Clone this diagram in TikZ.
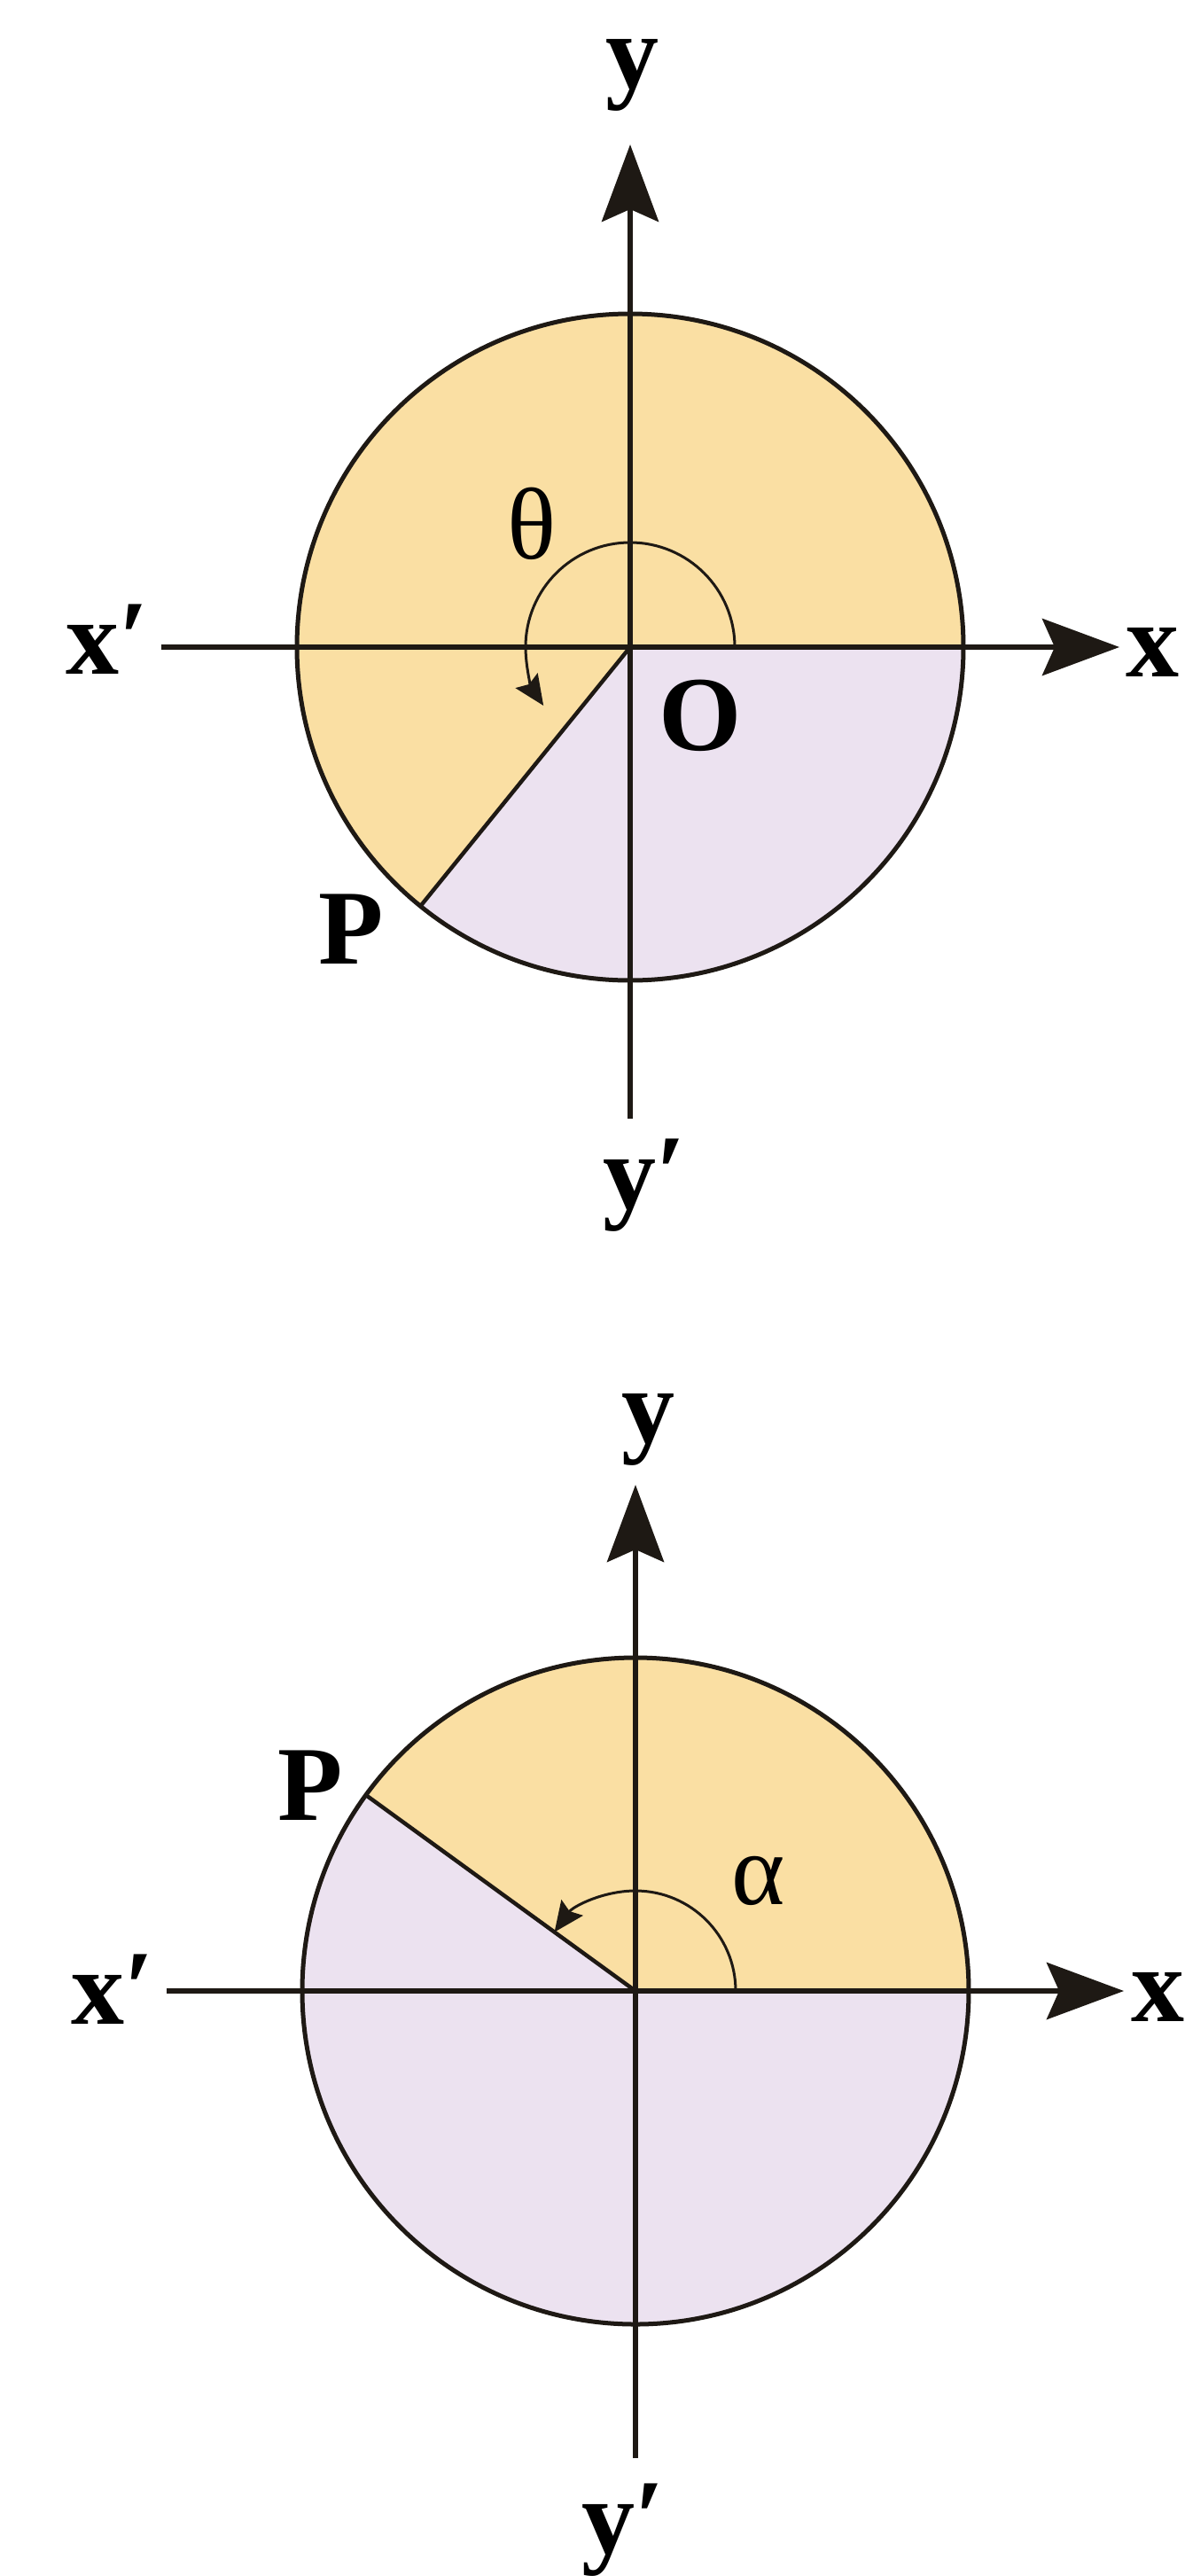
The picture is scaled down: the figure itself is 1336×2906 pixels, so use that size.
\documentclass[tikz,border=0pt]{standalone}
\usepackage{fontspec}
\setmainfont{Liberation Serif}
\usetikzlibrary{arrows.meta}
\definecolor{orangefill}{RGB}{250,223,163}
\definecolor{lavfill}{RGB}{236,226,240}
\definecolor{inkline}{RGB}{30,25,20}
\newcommand{\lblfont}{\fontsize{120}{120}\selectfont\bfseries}
\newcommand{\grkfont}{\fontsize{115}{115}\selectfont}
\begin{document}
\begin{tikzpicture}[x=1pt,y=1pt,
  axisline/.style={line width=6pt,draw=inkline,-{Stealth[length=87pt,width=64pt,inset=14pt]}},
  circline/.style={line width=5pt,draw=inkline},
  rayline/.style={line width=4.5pt,draw=inkline},
  anglearc/.style={line width=3pt,draw=inkline,-{Stealth[length=34pt,width=30pt,inset=5pt]}},
  lbl/.style={inner sep=0pt,anchor=base,font=\lblfont,text=black},
  grk/.style={inner sep=0pt,anchor=base,font=\grkfont,text=black}]
\useasboundingbox (0,0) rectangle (1336,-2906);
\fill[white] (0,0) rectangle (1336,-2906);
% ---------- top figure ----------
\coordinate (O1) at (711,-730);
\coordinate (P1) at ([shift={(231:376)}]O1);
\coordinate (A1) at ([shift={(0:118)}]O1);
\coordinate (X1a) at (182,-730);
\coordinate (X1b) at (1263,-730);
\coordinate (Y1a) at (711,-1262);
\coordinate (Y1b) at (711,-163);
\fill[orangefill] (O1) -- ([shift={(0:376)}]O1) arc[start angle=0,end angle=231,radius=376] -- cycle;
\fill[lavfill] (O1) -- (P1) arc[start angle=231,end angle=360,radius=376] -- cycle;
\draw[circline] (O1) circle[radius=376];
\draw[rayline] (O1) -- (P1);
\draw[axisline] (X1a) -- (X1b);
\draw[axisline] (Y1a) -- (Y1b);
\draw[anglearc] (A1) arc[start angle=0,end angle=214,radius=118];
\node[lbl] (ylab1) at (713,-100) {y};
\node[lbl] (xlab1) at (1300,-763) {x};
\node[lbl] (xplab1) at (121,-760) {x\char"2032};
\node[lbl] (yplab1) at (727,-1363) {y\char"2032};
\node[lbl] (plab1) at (396,-1087) {P};
\node[lbl] (olab1) at (790,-846) {O};
\node[grk] (thlab) at (600,-630) {θ};
% ---------- bottom figure ----------
\coordinate (O2) at (717,-2246);
\coordinate (P2) at ([shift={(144:376)}]O2);
\coordinate (A2) at ([shift={(0:113)}]O2);
\coordinate (X2a) at (188,-2246);
\coordinate (X2b) at (1268,-2246);
\coordinate (Y2a) at (717,-2773);
\coordinate (Y2b) at (717,-1675);
\fill[orangefill] (O2) -- ([shift={(0:376)}]O2) arc[start angle=0,end angle=144,radius=376] -- cycle;
\fill[lavfill] (O2) -- (P2) arc[start angle=144,end angle=360,radius=376] -- cycle;
\draw[circline] (O2) circle[radius=376];
\draw[rayline] (O2) -- (P2);
\draw[axisline] (X2a) -- (X2b);
\draw[axisline] (Y2a) -- (Y2b);
\draw[anglearc] (A2) arc[start angle=0,end angle=144,radius=113];
\node[lbl] (ylab2) at (731,-1627) {y};
\node[lbl] (xlab2) at (1306,-2280) {x};
\node[lbl] (xplab2) at (127,-2283) {x\char"2032};
\node[lbl] (yplab2) at (703,-2880) {y\char"2032};
\node[lbl] (plab2) at (350,-2053) {P};
\node[grk] (allab) at (856,-2148) {α};
\end{tikzpicture}
\end{document}
